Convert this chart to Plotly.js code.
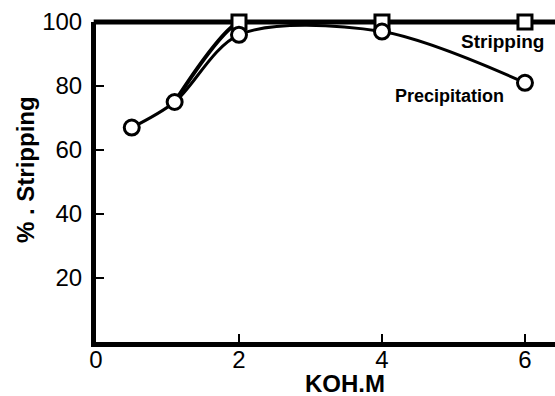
<!DOCTYPE html>
<html>
<head>
<meta charset="utf-8">
<script src="https://cdn.plot.ly/plotly-3.0.1.min.js"></script>
<style>html,body{margin:0;padding:0;background:#fff;}#chart{width:555px;height:396px;}</style>
</head>
<body>
<div id="chart"></div>
<script>
// Data
const precipX = [0.5, 1.1, 2, 4, 6];
const precipY = [67, 75, 96, 97, 81];
// stripping curve leaves the precipitation curve at x=1.1; square markers at x=2,4,6
const stripX = [1.1, 2, 4, 6];
const stripY = [75, 100, 100, 100];
const xTicks = [0, 2, 4, 6];
const yTicks = [20, 40, 60, 80, 100];

const font = "Liberation Sans, Arial, sans-serif";

const traces = [
  {
    x: stripX, y: stripY, type: 'scatter', mode: 'lines',
    line: {color: '#000', width: 4, shape: 'spline', smoothing: 0.6},
    cliponaxis: false, hoverinfo: 'none'
  },
  {
    x: stripX.slice(1), y: stripY.slice(1), type: 'scatter', mode: 'markers',
    marker: {symbol: 'square', size: 14, color: '#ffffff', opacity: 1, line: {color: '#000000', width: 3}},
    cliponaxis: false, hoverinfo: 'none'
  },
  {
    x: precipX, y: precipY, type: 'scatter', mode: 'lines+markers',
    line: {color: '#000', width: 3, shape: 'spline', smoothing: 0.9},
    marker: {symbol: 'circle', size: 15, color: '#fff', line: {color: '#000', width: 3}},
    cliponaxis: false, hoverinfo: 'none'
  }
];

const layout = {
  width: 555, height: 396,
  margin: {l: 96, r: 0, t: 22, b: 54, pad: 0},
  paper_bgcolor: '#fff', plot_bgcolor: '#fff',
  showlegend: false,
  font: {family: font, color: '#000'},
  xaxis: {
    range: [0, 6.42], tickvals: xTicks, ticktext: xTicks.map(String),
    showgrid: false, zeroline: false, layer: 'below traces',
    showline: true, linewidth: 5, linecolor: '#000', mirror: false,
    ticks: 'inside', ticklen: 8, tickwidth: 2, tickcolor: '#000',
    ticklabelstandoff: -8,
    tickfont: {family: font, size: 24, color: '#000'}
  },
  yaxis: {
    range: [0, 100], tickvals: yTicks, ticktext: yTicks.map(String),
    showgrid: false, zeroline: false, layer: 'below traces',
    showline: true, linewidth: 5, linecolor: '#000', mirror: false,
    ticks: 'inside', ticklen: 8, tickwidth: 2, tickcolor: '#000',
    ticklabelstandoff: 4,
    tickfont: {family: font, size: 24, color: '#000'}
  },
  shapes: [
    {type: 'line', xref: 'paper', yref: 'paper', x0: -0.005, x1: 1, y0: 1, y1: 1,
     line: {color: '#000', width: 5}, layer: 'below'}
  ],
  annotations: [
    {x: 5.68, y: 94, xref: 'x', yref: 'y', text: '<b>Stripping</b>', showarrow: false,
     font: {family: font, size: 19, color: '#000'}},
    {x: 4.94, y: 77, xref: 'x', yref: 'y', text: '<b>Precipitation</b>', showarrow: false,
     font: {family: font, size: 18, color: '#000'}},
    {x: 345, y: 383, xref: 'paper', yref: 'paper', text: '<b>KOH.M</b>', showarrow: false,
     xanchor: 'center', yanchor: 'middle',
     font: {family: font, size: 24, color: '#000'}},
    {x: 25, y: 170, xref: 'paper', yref: 'paper', text: '<b>% . Stripping</b>', showarrow: false,
     xanchor: 'center', yanchor: 'middle',
     textangle: -90, font: {family: font, size: 24, color: '#000'}}
  ]
};
// convert pixel anchors for axis titles into paper fractions
const pw = 555 - 96, ph = 396 - 22 - 54;
layout.annotations[2].x = (345 - 96) / pw; layout.annotations[2].y = (396 - 54 - 383) / ph;
layout.annotations[3].x = (25 - 96) / pw; layout.annotations[3].y = (396 - 54 - 170) / ph;

Plotly.newPlot('chart', traces, layout, {displayModeBar: false, staticPlot: true});
</script>
</body>
</html>
